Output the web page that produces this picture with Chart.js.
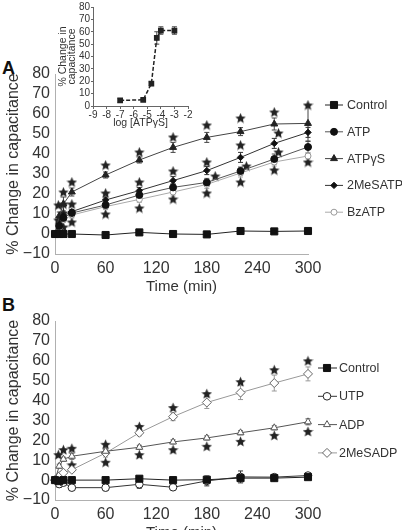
<!DOCTYPE html>
<html>
<head>
<meta charset="utf-8">
<script src="https://cdn.jsdelivr.net/npm/chart.js@4.4.0/dist/chart.umd.min.js"></script>
<style>
html, body { margin: 0; padding: 0; background: #fff; overflow: hidden; width: 402px; height: 530px; }
canvas { position: absolute; }
#cA { left: 0; top: 0; }
#cIn { left: 58px; top: 0; }
#cB { left: 0; top: 300px; }
.lab { position: absolute; font: bold 18px "Liberation Sans", Arial, sans-serif; color: #111; }
</style>
</head>
<body>
<div class="lab" style="left:2px;top:58px">A</div>
<div class="lab" style="left:2px;top:295px">B</div>
<canvas id="cA" width="402" height="300"></canvas>
<canvas id="cIn" width="142" height="130"></canvas>
<canvas id="cB" width="402" height="250"></canvas>
<script>
// time points (min)
const times = [0, 5, 10, 20, 60, 100, 140, 180, 220, 260, 300]

// panel A
const ctrlA = [0, 0, 0, 0, -0.5, 0.8, 0, -0.2, 1.5, 1.3, 1.5]
const ctrlAErr = [0.5, 0.5, 0.5, 0.5, 0.5, 0.5, 0.5, 0.5, 0.5, 0.5, 0.5]
const atp = [0, 4, 8, 10.5, 14.5, 19.5, 23.3, 25.8, 31.5, 37.5, 43.5]
const atpErr = [0.5, 1, 1.5, 1.5, 1.5, 2, 2, 2, 2, 2.5, 3]
const atpgs = [0, 9, 15, 21, 29.5, 37, 43.3, 48.3, 51.2, 55, 55.3]
const atpgsErr = [0.5, 2, 3.5, 2, 1.5, 1.5, 2.5, 2.5, 2, 3, 9]
const mesatp = [0, 5, 9, 11.2, 17, 21.7, 26.7, 31.7, 38.3, 45.3, 50.8]
const mesatpErr = [0.5, 1, 1, 1, 1.5, 1.5, 2, 2, 2.5, 2.5, 2.5]
const bzatp = [0, 3, 7, 9.5, 13.7, 17.3, 21, 24.8, 30.5, 36, 39]
const bzatpErr = [0.5, 1, 1, 1.5, 1.5, 1.5, 2, 2, 2, 2, 1.5]
const starAx = [4, 4, 10, 10, 10, 10, 20, 20, 20, 60, 60, 60, 100, 100, 100, 140, 140, 140, 180, 180, 180, 190, 220, 220, 220, 227, 260, 260, 265, 265, 300, 300, 306, 306]
const starAy = [14.5, 7, 21, 15, 10.5, 3.5, 26, 15, 6, 34.5, 20.5, 10, 41, 26, 13, 48.5, 31.5, 17.5, 54.5, 36, 20.5, 29, 58, 44.5, 26, 34, 61, 32, 50.5, 41, 64.5, 36, 53.5, 46]

// inset: dose response to ATPgS
const logDose = [-7, -5.3, -4.7, -4.3, -4, -3]
const doseResp = [4.5, 5, 18, 55, 61, 61]
const doseErr = [1.5, 1, 1.5, 5, 3, 3]

// panel B
const ctrlB = [0, -0.5, 0, 0, 0, 0.7, 0, 0.2, 1, 1, 1.5]
const ctrlBErr = [0.5, 0.5, 0.5, 0.5, 0.5, 0.5, 0.5, 0.5, 0.5, 0.5, 0.5]
const utp = [0, -2, -1.3, -3.8, -3.8, -2.1, -3.6, -0.4, 1.6, 1.5, 2.3]
const utpErr = [1, 1.5, 1, 1, 1.5, 2, 1, 2.5, 3, 1, 1]
const adp = [0, 7, 10.5, 12, 14.5, 16.5, 19.2, 21.2, 23.8, 26.3, 29.3]
const adpErr = [0.5, 1, 1, 1.5, 1, 1, 1, 1, 1, 1, 1.5]
const mesadp = [0, 2, 3.7, 5.2, 13.6, 23.8, 31.9, 39, 44, 48.8, 53.4]
const mesadpErr = [0.5, 1, 1, 1, 2, 1.5, 2, 3, 3.5, 4, 3.5]
const starBx = [4, 10, 20, 20, 60, 60, 100, 100, 140, 140, 180, 180, 220, 220, 260, 260, 300, 300]
const starBy = [12.8, 15.3, 16, 7.7, 18, 9, 27, 12.8, 36.5, 15.3, 43.5, 17, 49.5, 19.5, 55.5, 22.5, 60, 24.5]

Chart.defaults.font.family = '"Liberation Sans", Arial, sans-serif'
Chart.defaults.color = '#333'

// filled star used for significance marks
function makeStar(size, color) {
    const c = document.createElement('canvas')
    c.width = size
    c.height = size
    const g = c.getContext('2d')
    const r = size / 2, ri = r * 0.45
    g.beginPath()
    for (let i = 0; i < 10; i++) {
        const a = -Math.PI / 2 + i * Math.PI / 5
        const rr = i % 2 ? ri : r
        g.lineTo(r + rr * Math.cos(a), r + 0.6 + rr * Math.sin(a))
    }
    g.closePath()
    g.fillStyle = color
    g.fill()
    return c
}
const starImg = makeStar(11, '#222')

const errorBars = {
    id: 'errorBars',
    beforeDatasetsDraw(chart) {
        const ctx = chart.ctx
        const ys = chart.scales.y
        chart.data.datasets.forEach((ds, i) => {
            if (!ds.errors) return
            const meta = chart.getDatasetMeta(i)
            ctx.save()
            ctx.strokeStyle = ds.errColor || ds.borderColor
            ctx.lineWidth = 1
            meta.data.forEach((pt, j) => {
                const v = ds.data[j].y, e = ds.errors[j]
                if (!e) return
                const top = ys.getPixelForValue(v + e), bot = ys.getPixelForValue(v - e)
                ctx.beginPath()
                ctx.moveTo(pt.x, top); ctx.lineTo(pt.x, bot)
                ctx.moveTo(pt.x - 2.5, top); ctx.lineTo(pt.x + 2.5, top)
                ctx.moveTo(pt.x - 2.5, bot); ctx.lineTo(pt.x + 2.5, bot)
                ctx.stroke()
            })
            ctx.restore()
        })
    }
}

const sideLegend = {
    id: 'sideLegend',
    afterDraw(chart, args, opts) {
        if (!opts || !opts.x0) return
        const ctx = chart.ctx
        let y = opts.top
        chart.data.datasets.forEach(ds => {
            if (!ds.inLegend) return
            ctx.save()
            ctx.strokeStyle = ds.borderColor
            ctx.lineWidth = 1
            ctx.beginPath()
            ctx.moveTo(opts.x0, y)
            ctx.lineTo(opts.x1, y)
            ctx.stroke()
            ctx.fillStyle = ds.pointBackgroundColor
            ctx.strokeStyle = ds.pointBorderColor
            Chart.helpers.drawPoint(ctx, { pointStyle: ds.pointStyle, radius: ds.pointRadius, rotation: 0, borderWidth: 1 }, opts.xm, y)
            ctx.fillStyle = '#333'
            ctx.font = '12.5px "Liberation Sans", Arial, sans-serif'
            ctx.textBaseline = 'middle'
            ctx.fillText(ds.label, opts.tx, y + 0.5)
            ctx.restore()
            y += opts.step
        })
    }
}

function series(label, vals, errs, style) {
    return Object.assign({
        label: label,
        data: vals.map((v, i) => ({ x: times[i], y: v })),
        errors: errs,
        borderWidth: 1,
        pointBorderWidth: 1,
        inLegend: true,
        clip: false
    }, style)
}

function stars(xs, ys) {
    return {
        label: 'stars',
        data: xs.map((x, i) => ({ x: x, y: ys[i] })),
        showLine: false,
        pointStyle: starImg,
        pointRadius: 5,
        clip: false
    }
}

const minus = v => String(v).replace('-', '\u2212')

function mainScales(xHeight, titlePad) {
    return {
        x: {
            type: 'linear', min: 0, max: 300,
            afterFit: s => { s.height = xHeight },
            afterBuildTicks: s => { s.ticks = [0, 60, 120, 180, 240, 300].map(v => ({ value: v })) },
            grid: { display: false, drawTicks: false },
            border: { display: true, color: '#b0b0b0', width: 1 },
            ticks: { font: { size: 16 }, padding: 5, maxRotation: 0, autoSkip: false },
            title: { display: true, text: 'Time (min)', font: { size: 15 }, padding: titlePad, color: '#333' }
        },
        y: {
            min: -10, max: 80,
            afterFit: s => { s.width = 55 },
            grid: { display: false, drawTicks: false },
            border: { display: true, color: '#b0b0b0', width: 1 },
            ticks: { stepSize: 10, font: { size: 16 }, padding: 5, callback: minus, autoSkip: false },
            title: { display: true, text: '% Change in capacitance', font: { size: 16 }, padding: { top: 4, bottom: 4 }, color: '#333' }
        }
    }
}

const baseOpts = {
    responsive: false,
    animation: false,
    devicePixelRatio: 1,
    plugins: { legend: { display: false }, tooltip: { enabled: false } }
}

new Chart(document.getElementById('cA'), {
    type: 'line',
    data: {
        datasets: [
            series('Control', ctrlA, ctrlAErr, { borderColor: '#222', pointBackgroundColor: '#111', pointBorderColor: '#111', pointStyle: 'rect', pointRadius: 5 }),
            series('ATP', atp, atpErr, { borderColor: '#555', pointBackgroundColor: '#111', pointBorderColor: '#111', pointStyle: 'circle', pointRadius: 3.5 }),
            series('ATP\u03b3S', atpgs, atpgsErr, { borderColor: '#444', pointBackgroundColor: '#222', pointBorderColor: '#222', pointStyle: 'triangle', pointRadius: 4 }),
            series('2MeSATP', mesatp, mesatpErr, { borderColor: '#333', pointBackgroundColor: '#111', pointBorderColor: '#111', pointStyle: 'rectRot', pointRadius: 3.2 }),
            series('BzATP', bzatp, bzatpErr, { borderColor: '#aaa', pointBackgroundColor: '#fff', pointBorderColor: '#999', pointStyle: 'circle', pointRadius: 3 }),
            stars(starAx, starAy)
        ]
    },
    options: Object.assign({}, baseOpts, {
        layout: { padding: { top: 74, right: 94, left: 0, bottom: 0 } },
        scales: mainScales(46, { top: 4, bottom: 4 }),
        plugins: Object.assign({}, baseOpts.plugins, {
            sideLegend: { x0: 325, x1: 343, xm: 334, tx: 347, top: 105, step: 26.8 }
        })
    }),
    plugins: [errorBars, sideLegend]
})

new Chart(document.getElementById('cIn'), {
    type: 'line',
    data: {
        datasets: [{
            label: 'ATPgS dose',
            data: logDose.map((x, i) => ({ x: x, y: doseResp[i] })),
            errors: doseErr,
            errColor: '#444',
            borderColor: '#222',
            borderWidth: 1.5,
            borderDash: [4, 2],
            pointStyle: 'rect',
            pointRadius: 3,
            pointBackgroundColor: '#222',
            pointBorderColor: '#222'
        }]
    },
    options: Object.assign({}, baseOpts, {
        layout: { padding: { top: 7, right: 12, left: 0, bottom: 0 } },
        scales: {
            x: {
                type: 'linear', min: -9, max: -2,
                afterFit: s => { s.height = 24 },
                grid: { display: true, drawOnChartArea: false, drawTicks: true, tickLength: 3, color: '#666' },
                border: { display: true, color: '#666', width: 1 },
                ticks: { stepSize: 1, font: { size: 10 }, padding: 0, maxRotation: 0, autoSkip: false },
                title: { display: true, text: 'log [ATP\u03b3S]', font: { size: 10.5 }, padding: { top: 0, bottom: 1 }, color: '#333' }
            },
            y: {
                min: 0, max: 80,
                afterFit: s => { s.width = 35 },
                grid: { display: true, drawOnChartArea: false, drawTicks: true, tickLength: 2, color: '#666' },
                border: { display: true, color: '#666', width: 1 },
                ticks: { stepSize: 10, font: { size: 10 }, padding: 1, autoSkip: false },
                title: { display: true, text: ['% Change in', 'capacitance'], font: { size: 10.5, lineHeight: 0.9 }, padding: { top: 0, bottom: 0 }, color: '#333' }
            }
        }
    }),
    plugins: [errorBars]
})

new Chart(document.getElementById('cB'), {
    type: 'line',
    data: {
        datasets: [
            series('Control', ctrlB, ctrlBErr, { borderColor: '#222', pointBackgroundColor: '#111', pointBorderColor: '#111', pointStyle: 'rect', pointRadius: 5 }),
            series('UTP', utp, utpErr, { borderColor: '#333', pointBackgroundColor: '#fff', pointBorderColor: '#222', pointStyle: 'circle', pointRadius: 3.8 }),
            series('ADP', adp, adpErr, { borderColor: '#555', pointBackgroundColor: '#fff', pointBorderColor: '#555', pointStyle: 'triangle', pointRadius: 4 }),
            series('2MeSADP', mesadp, mesadpErr, { borderColor: '#999', pointBackgroundColor: '#fff', pointBorderColor: '#666', pointStyle: 'rectRot', pointRadius: 4.5 }),
            stars(starBx, starBy)
        ]
    },
    options: Object.assign({}, baseOpts, {
        layout: { padding: { top: 21, right: 94, left: 0, bottom: 0 } },
        scales: mainScales(50, { top: 4, bottom: 8 }),
        plugins: Object.assign({}, baseOpts.plugins, {
            sideLegend: { x0: 318, x1: 337, xm: 327, tx: 339, top: 68, step: 28.3 }
        })
    }),
    plugins: [errorBars, sideLegend]
})
</script>
</body>
</html>
